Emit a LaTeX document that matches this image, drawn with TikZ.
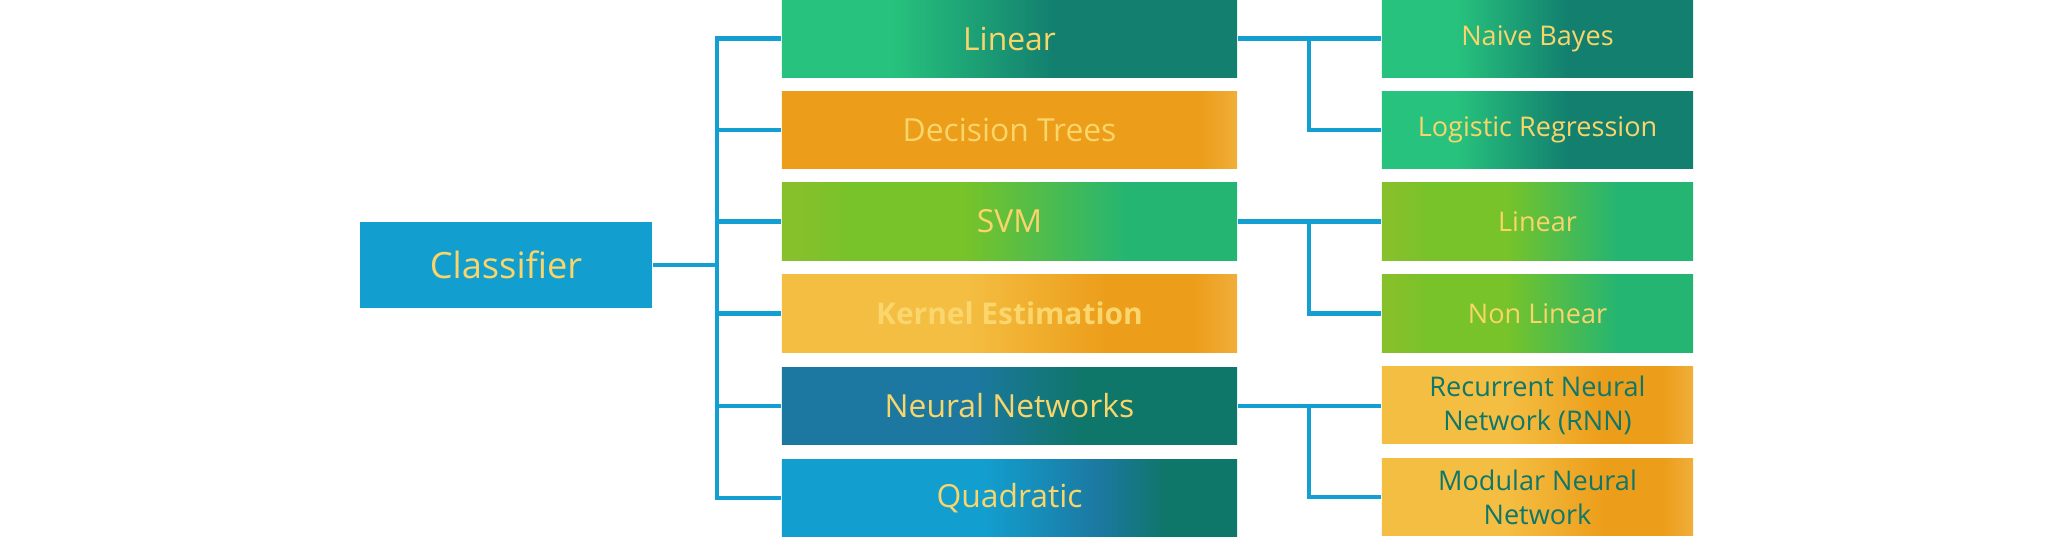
\documentclass[tikz,border=0pt]{standalone}
\usepackage{fontspec}
\setmainfont{Open Sans}

\definecolor{skyblue}{HTML}{129FCF}
\definecolor{textyellow}{HTML}{F9D56A}
\definecolor{paleyellow}{HTML}{FAD66C}
\definecolor{darkteal}{HTML}{0F766A}
\definecolor{leafgreen}{HTML}{27C27D}
\definecolor{deepteal}{HTML}{137F6F}
\definecolor{lime}{HTML}{77C329}
\definecolor{limeedge}{HTML}{86C02A}
\definecolor{seagreen}{HTML}{24B572}
\definecolor{amber}{HTML}{EC9D19}
\definecolor{amberlight}{HTML}{F0AE3A}
\definecolor{sand}{HTML}{F4BE42}
\definecolor{steelblue}{HTML}{1C78A0}
\definecolor{linkblue}{HTML}{139FD2}

% stops between 25bp and 75bp cover the node
\pgfdeclarehorizontalshading{greenteal}{100bp}{color(0bp)=(leafgreen); color(37bp)=(leafgreen);
    color(55bp)=(deepteal); color(100bp)=(deepteal)}
\pgfdeclarehorizontalshading{limeshade}{100bp}{color(0bp)=(limeedge); color(27bp)=(limeedge);
    color(33bp)=(lime); color(45bp)=(lime); color(63bp)=(seagreen); color(100bp)=(seagreen)}
\pgfdeclarehorizontalshading{ambershade}{100bp}{color(0bp)=(amber); color(71bp)=(amber);
    color(75bp)=(amberlight); color(100bp)=(amberlight)}
\pgfdeclarehorizontalshading{sandshade}{100bp}{color(0bp)=(sand); color(45bp)=(sand);
    color(61bp)=(amber); color(70bp)=(amber); color(75bp)=(amberlight); color(100bp)=(amberlight)}
\pgfdeclarehorizontalshading{nnshade}{100bp}{color(0bp)=(steelblue); color(46bp)=(steelblue);
    color(58bp)=(darkteal); color(100bp)=(darkteal)}
\pgfdeclarehorizontalshading{quadshade}{100bp}{color(0bp)=(skyblue); color(47bp)=(skyblue);
    color(60bp)=(steelblue); color(67bp)=(darkteal); color(100bp)=(darkteal)}

\begin{document}
\begin{tikzpicture}[
    x=0.01cm, y=-0.01cm,
    box/.style={rectangle, inner sep=0pt, align=center, text=textyellow},
    root/.style={box, fill=skyblue, minimum width=2.92cm, minimum height=0.86cm,
        font=\fontsize{10.3}{12}\selectfont},
    method/.style={box, minimum width=4.55cm, minimum height=0.77cm,
        font=\fontsize{9.05}{11}\selectfont},
    variant/.style={box, minimum width=3.11cm, minimum height=0.77cm,
        font=\fontsize{7.7}{9.7}\selectfont},
    link/.style={draw=linkblue, line width=1.15pt}
]
    \useasboundingbox (0,0) rectangle (2048,548);

    \node[root] (clf) at (506,265) {Classifier};

    \node[method, shading=greenteal] (lin) at (1009.5,38.5) {Linear};
    \node[method, shading=ambershade] (dt) at (1009.5,130) {Decision Trees};
    \node[method, shading=limeshade] (svm) at (1009.5,221.5) {SVM};
    \node[method, shading=sandshade, text=paleyellow,
        font=\fontsize{8.5}{10}\selectfont\bfseries] (ke) at (1009.5,313.5) {Kernel Estimation};
    \node[method, shading=nnshade] (nn) at (1009.5,406) {Neural Networks};
    \node[method, shading=quadshade] (quad) at (1009.5,498) {Quadratic};

    \node[variant, shading=greenteal] (nb) at (1537.5,38.5) {Naive Bayes};
    \node[variant, shading=greenteal] (lr) at (1537.5,130) {Logistic Regression};
    \node[variant, shading=limeshade] (svl) at (1537.5,221.5) {Linear};
    \node[variant, shading=limeshade] (svn) at (1537.5,313.5) {Non Linear};
    \node[variant, shading=sandshade, text=darkteal] (rnn) at (1537.5,405) {Recurrent Neural\\Network (RNN)};
    \node[variant, shading=sandshade, text=darkteal] (mnn) at (1537.5,497) {Modular Neural\\Network};

    \coordinate (bus) at (717,0);
    \coordinate (sub) at (1309,0);

    \draw[link] (clf.east) -- (clf -| bus) |- (lin.west);
    \draw[link] (clf.east) -- (clf -| bus) |- (dt.west);
    \draw[link] (clf.east) -- (clf -| bus) |- (svm.west);
    \draw[link] (clf.east) -- (clf -| bus) |- (ke.west);
    \draw[link] (clf.east) -- (clf -| bus) |- (nn.west);
    \draw[link] (clf.east) -- (clf -| bus) |- (quad.west);

    \draw[link] (lin.east) -- (nb.west);
    \draw[link] (lin.east) -- (lin -| sub) |- (lr.west);
    \draw[link] (svm.east) -- (svl.west);
    \draw[link] (svm.east) -- (svm -| sub) |- (svn.west);
    \draw[link] (nn.east) -- (rnn.west |- nn);
    \draw[link] (nn.east) -- (nn -| sub) |- (mnn.west);
\end{tikzpicture}
\end{document}
